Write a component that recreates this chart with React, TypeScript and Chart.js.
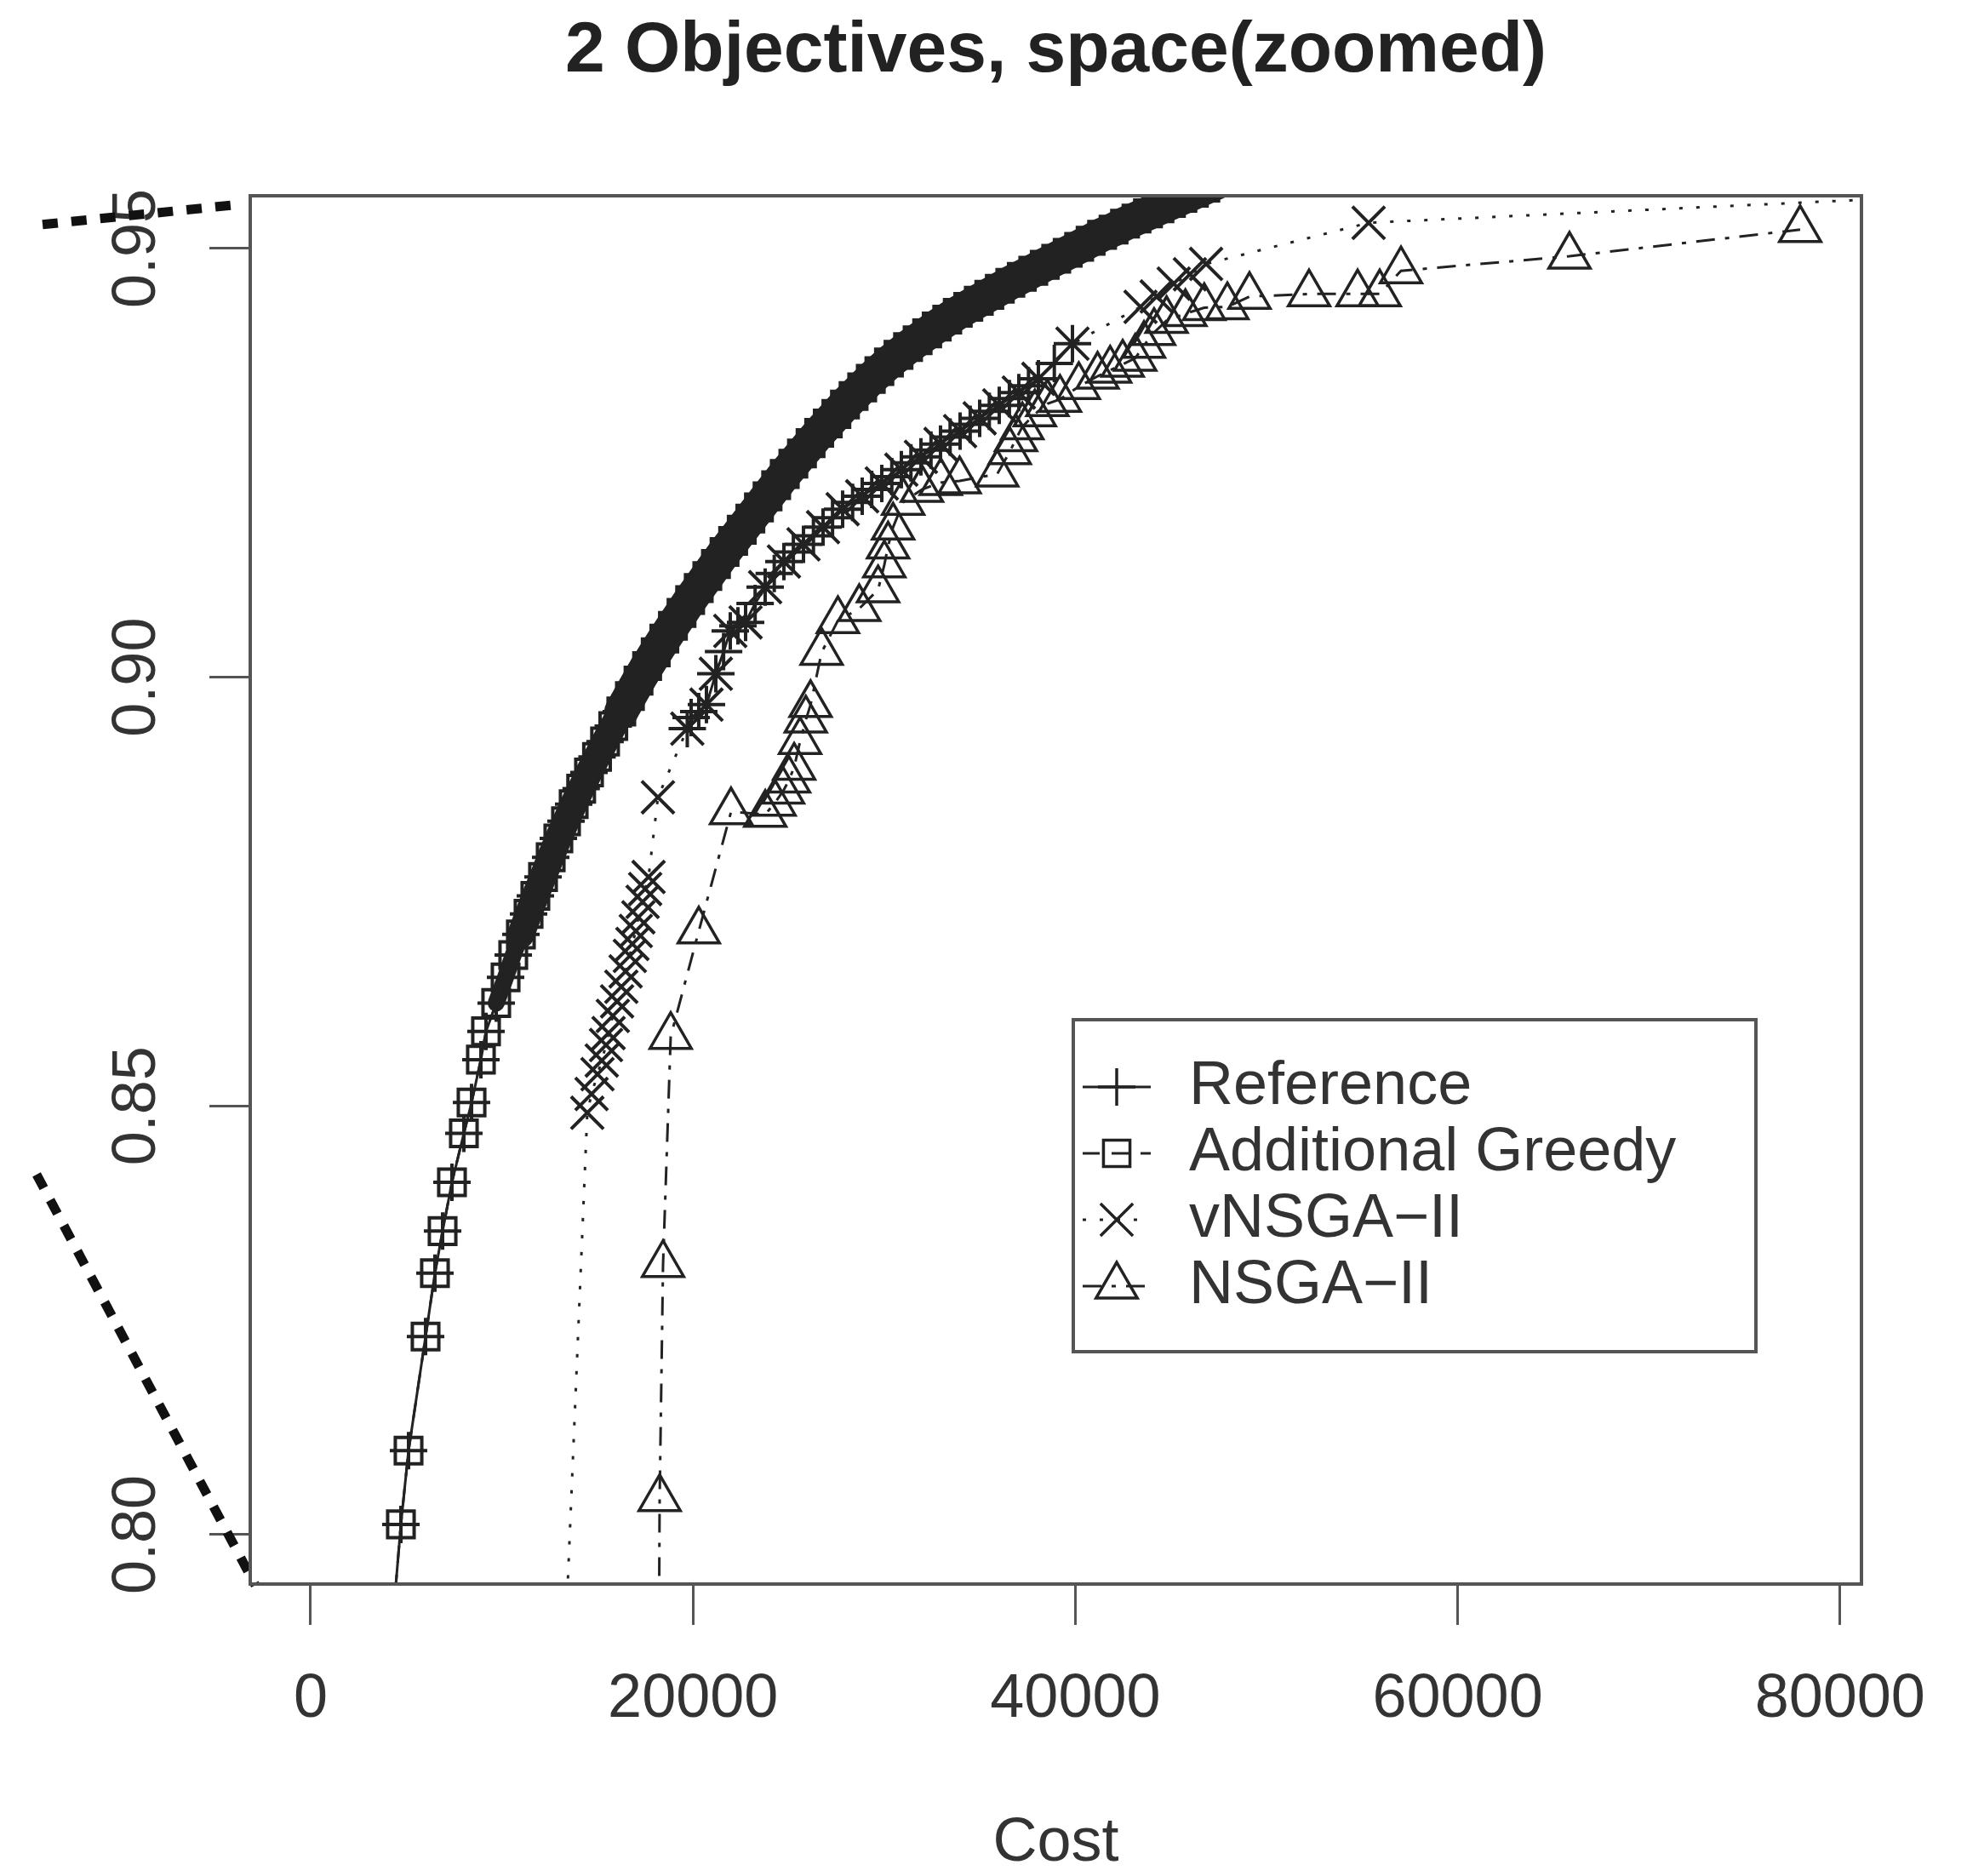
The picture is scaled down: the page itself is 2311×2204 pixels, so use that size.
import React, { useEffect, useRef } from 'react';
import { Chart, registerables } from 'chart.js';

Chart.register(...registerables);

// ---------------- data ----------------
const chartTitle = '2 Objectives, space(zoomed)';
const xAxisTitle = 'Cost';
const xTickValues = [0, 20000, 40000, 60000, 80000];
const yTickValues = [0.8, 0.85, 0.9, 0.95];
const seriesNames = ['Reference', 'Additional Greedy', 'vNSGA\u2212II', 'NSGA\u2212II'];

// front shared by Reference and Additional Greedy (dense band)
const bandCost = [
  4300, 4720, 5120, 6011, 6500, 6901, 7391, 8014, 8416, 8905, 9172, 9706, 10196, 10597, 10997, 11398,
  11754, 12155, 12556, 12957, 13357, 13758, 14150, 14560, 14980, 15400, 15830, 16250, 16700, 17150,
  17600, 18050, 18500, 18950, 19400, 19850, 20300, 20750, 21200, 21650, 22100, 22550, 23000, 23450,
  23900, 24350, 24800, 25250, 25700, 26150, 26600, 27050, 27500, 27950, 28400, 28850, 29300, 29750,
  30250, 30750, 31250, 31750, 32250, 32750, 33300, 33850, 34400, 34950, 35500, 36050, 36600, 37200,
  37800, 38400, 39000, 39600, 40200, 40800, 41400, 42000, 42600, 43200, 43800, 44400, 45000, 45600,
  46200, 46800, 47400,
];
const bandCoverage = [
  0.79, 0.8012, 0.8098, 0.8231, 0.8305, 0.8354, 0.8411, 0.8468, 0.8504, 0.8554, 0.8587, 0.862, 0.865,
  0.8676, 0.87, 0.8724, 0.8745, 0.8767, 0.879, 0.8812, 0.8832, 0.8852, 0.887, 0.8889, 0.8907, 0.8925,
  0.8943, 0.896, 0.8978, 0.8996, 0.9013, 0.9029, 0.9045, 0.906, 0.9075, 0.909, 0.9104, 0.9118, 0.9132,
  0.9146, 0.9159, 0.9172, 0.9185, 0.9198, 0.9211, 0.9224, 0.9237, 0.9249, 0.9261, 0.9273, 0.9285,
  0.9296, 0.9307, 0.9318, 0.9328, 0.9338, 0.9348, 0.9357, 0.9367, 0.9376, 0.9385, 0.9393, 0.9401,
  0.9409, 0.9417, 0.9425, 0.9432, 0.9439, 0.9446, 0.9453, 0.946, 0.9467, 0.9474, 0.9481, 0.9488,
  0.9495, 0.9502, 0.9509, 0.9516, 0.9522, 0.9529, 0.9535, 0.9541, 0.9547, 0.9553, 0.9559, 0.9565,
  0.9571, 0.9577,
];

// Reference points on the middle curve
const refUpperCost = [
  19700, 19902, 20300, 20703, 21194, 21600, 21950, 22350, 22751, 23250, 23775, 24250, 24755, 25250,
  25780, 26300, 26803, 27300, 27827, 28350, 28851, 29350, 29875, 30400, 30899, 31400, 31923, 32450,
  32947, 33450, 33972, 34500, 34996, 35500, 36020, 36550, 37043, 37550, 38067, 38900, 39850,
];
const refUpperCoverage = [
  0.894, 0.8953, 0.896, 0.8968, 0.9004, 0.903, 0.9054, 0.906, 0.9064, 0.9086, 0.9105, 0.9121, 0.9135,
  0.9146, 0.9155, 0.9165, 0.9175, 0.9186, 0.9196, 0.9204, 0.9211, 0.9219, 0.9226, 0.9234, 0.9242,
  0.925, 0.9257, 0.9265, 0.9272, 0.928, 0.9287, 0.9295, 0.9302, 0.931, 0.9317, 0.9325, 0.9332, 0.934,
  0.9348, 0.9366, 0.9389,
];

const vnsgaCost = [
  13200, 14470, 14693, 15004, 15227, 15450, 15583, 15806, 16029, 16251, 16474, 16696, 16830, 17008,
  17141, 17364, 17498, 17676, 18166, 19702, 20703, 21194, 21950, 22751, 23775, 24755, 25780, 26803,
  27827, 28851, 29875, 30899, 31923, 32947, 33972, 34996, 36020, 37043, 38067, 39850, 43410, 44257,
  45147, 45993, 46839, 55342, 90000,
];
const vnsgaCoverage = [
  0.781, 0.8492, 0.8514, 0.8537, 0.8553, 0.8571, 0.8585, 0.8605, 0.8622, 0.8639, 0.8657, 0.8675,
  0.8689, 0.8704, 0.872, 0.8738, 0.8753, 0.8767, 0.886, 0.894, 0.8968, 0.9004, 0.9054, 0.9064, 0.9105,
  0.9135, 0.9155, 0.9175, 0.9196, 0.9211, 0.9226, 0.9242, 0.9257, 0.9272, 0.9287, 0.9302, 0.9317,
  0.9332, 0.9348, 0.9389, 0.9432, 0.9444, 0.9459, 0.947, 0.9482, 0.953, 0.9566,
];

const nsgaCost = [
  18200, 18255, 18433, 18833, 20303, 21990, 23780, 24265, 24710, 25022, 25290, 25600, 25900, 26150,
  26727, 27580, 28696, 29680, 30008, 30205, 30468, 30993, 31977, 32961, 33946, 35914, 36570, 36898,
  37226, 37883, 38539, 39195, 40179, 41164, 41820, 42476, 43132, 43592, 44117, 44773, 45757, 46742,
  47952, 49110, 52226, 54766, 55922, 57034, 65850, 77916,
];
const nsgaCoverage = [
  0.78, 0.8042, 0.8315, 0.8581, 0.8704, 0.8843, 0.884, 0.8853, 0.8867, 0.888, 0.8895, 0.8925, 0.895,
  0.8968, 0.9029, 0.9066, 0.908, 0.9102, 0.9131, 0.9153, 0.9175, 0.9204, 0.9219, 0.9227, 0.9229,
  0.9237, 0.9263, 0.9278, 0.9292, 0.9307, 0.9319, 0.9324, 0.9339, 0.9351, 0.9358, 0.9365, 0.9372,
  0.9387, 0.9402, 0.9416, 0.9424, 0.9431, 0.9432, 0.9444, 0.9447, 0.9447, 0.9447, 0.9474, 0.9491,
  0.9522,
];

// stray dashed strokes printed outside the plot region (left margin)
const strayCost = [-14025, -3918, null, -14336, -2894];
const strayCoverage = [0.9528, 0.9551, null, 0.842, 0.7941];

// ---------------- styling / layout ----------------
const FONT = "'Liberation Sans', Arial, Helvetica, sans-serif";
const INK = '#222222';
const TEXT = '#333333';
const FRAME = '#555555';
const W = 2311;
const H = 2204;
const X_MIN = -3161;
const X_MAX = 81122;
const Y_MIN = 0.79424;
const Y_MAX = 0.95615;

const toPoints = (xs: (number | null)[], ys: (number | null)[]) => xs.map((x, i) => ({ x, y: ys[i] }));

function drawMarker(ctx: CanvasRenderingContext2D, style: string, x: number, y: number, r: number) {
  ctx.beginPath();
  if (style === 'cross') {
    ctx.moveTo(x - r, y); ctx.lineTo(x + r, y);
    ctx.moveTo(x, y - r); ctx.lineTo(x, y + r);
  } else if (style === 'crossRot') {
    const d = Math.SQRT1_2 * r;
    ctx.moveTo(x - d, y - d); ctx.lineTo(x + d, y + d);
    ctx.moveTo(x - d, y + d); ctx.lineTo(x + d, y - d);
  } else if (style === 'rect') {
    const s = Math.SQRT1_2 * r;
    ctx.rect(x - s, y - s, 2 * s, 2 * s);
  } else if (style === 'triangle') {
    let a = 0;
    ctx.moveTo(x + Math.sin(a) * r, y - Math.cos(a) * r);
    a += (2 * Math.PI) / 3;
    ctx.lineTo(x + Math.sin(a) * r, y - Math.cos(a) * r);
    a += (2 * Math.PI) / 3;
    ctx.lineTo(x + Math.sin(a) * r, y - Math.cos(a) * r);
    ctx.closePath();
  }
  ctx.stroke();
}

const legendItems = [
  { label: seriesNames[0], style: 'cross', r: 22, dash: [] as number[] },
  { label: seriesNames[1], style: 'rect', r: 22, dash: [20, 14] },
  { label: seriesNames[2], style: 'crossRot', r: 27, dash: [4, 16] },
  { label: seriesNames[3], style: 'triangle', r: 28, dash: [22, 12, 5, 12] },
];

const frameBoxPlugin = {
  id: 'frameBox',
  afterDatasetsDraw(chart: any) {
    const { ctx, chartArea: a } = chart;
    ctx.save();
    ctx.lineWidth = 4;
    ctx.strokeStyle = FRAME;
    ctx.strokeRect(a.left, a.top, a.right - a.left, a.bottom - a.top);
    ctx.restore();
  },
};

const rLegendPlugin = {
  id: 'rLegend',
  afterDraw(chart: any) {
    const { ctx, chartArea: a } = chart;
    const left = a.left + 967;
    const top = a.top + 968;
    const width = 802;
    const height = 390;
    ctx.save();
    ctx.lineWidth = 4;
    ctx.strokeStyle = FRAME;
    ctx.strokeRect(left, top, width, height);
    legendItems.forEach((it, i) => {
      const y = top + 79 + i * 78;
      const cx = left + 51;
      ctx.strokeStyle = INK;
      ctx.lineWidth = 3;
      ctx.setLineDash(it.dash);
      ctx.beginPath();
      ctx.moveTo(cx - 40, y);
      ctx.lineTo(cx + 40, y);
      ctx.stroke();
      ctx.setLineDash([]);
      ctx.lineWidth = 3.5;
      drawMarker(ctx, it.style, cx, y, it.r);
      ctx.fillStyle = TEXT;
      ctx.font = `72px ${FONT}`;
      ctx.textAlign = 'left';
      ctx.textBaseline = 'middle';
      ctx.fillText(it.label, left + 136, y);
    });
    ctx.restore();
  },
};

export default function App() {
  const canvasRef = useRef<HTMLCanvasElement | null>(null);

  useEffect(() => {
    if (!canvasRef.current) return;
    const common = {
      showLine: true,
      borderColor: INK,
      pointBorderColor: INK,
      pointBackgroundColor: 'rgba(0,0,0,0)',
      pointBorderWidth: 4,
      borderWidth: 3,
      spanGaps: false,
    };
    const bandLen = bandCost.length;
    const chart = new Chart(canvasRef.current, {
      type: 'scatter',
      data: {
        datasets: [
          {
            ...common,
            label: seriesNames[0],
            data: [...toPoints(bandCost, bandCoverage), { x: null, y: null }, ...toPoints(refUpperCost, refUpperCoverage)],
            pointStyle: 'cross',
            pointRadius: 22,
            borderCapStyle: 'round',
            borderJoinStyle: 'round',
            segment: {
              borderWidth: (c: any) => {
                if (c.p0DataIndex >= bandLen - 1) return 3;
                const y = c.p0.parsed.y;
                if (y >= 0.895) return 40;
                if (y >= 0.87) return 32;
                if (y >= 0.862) return 20;
                return 3;
              },
            },
          },
          {
            ...common,
            label: seriesNames[1],
            data: toPoints(bandCost, bandCoverage),
            pointStyle: 'rect',
            pointRadius: 22,
            borderDash: [20, 14],
          },
          {
            ...common,
            label: seriesNames[2],
            data: toPoints(vnsgaCost, vnsgaCoverage),
            pointStyle: 'crossRot',
            pointRadius: 27,
            borderDash: [4, 16],
          },
          {
            ...common,
            label: seriesNames[3],
            data: toPoints(nsgaCost, nsgaCoverage),
            pointStyle: 'triangle',
            pointRadius: 28,
            pointBorderWidth: 3.5,
            borderDash: [22, 12, 5, 12],
          },
          {
            label: 'stray',
            data: toPoints(strayCost, strayCoverage),
            showLine: true,
            borderColor: '#111111',
            borderWidth: 11,
            borderDash: [18, 16],
            pointRadius: 0,
            clip: false,
            spanGaps: false,
          },
        ] as any,
      },
      options: {
        responsive: false,
        maintainAspectRatio: false,
        devicePixelRatio: 1,
        animation: false,
        events: [],
        layout: { padding: { left: 0, top: 0, right: W - 2187, bottom: 0 } },
        plugins: {
          legend: { display: false },
          tooltip: { enabled: false },
          title: {
            display: true,
            fullSize: false,
            text: chartTitle,
            color: '#222222',
            font: { family: FONT, size: 84, weight: 'bold', lineHeight: 1.2 },
            padding: { top: 10, bottom: 119.2 },
          },
        },
        scales: {
          x: {
            type: 'linear',
            min: X_MIN,
            max: X_MAX,
            afterBuildTicks: (s: any) => {
              s.ticks = xTickValues.map((v) => ({ value: v }));
            },
            afterFit: (s: any) => {
              s.height = H - 1861;
            },
            ticks: {
              autoSkip: false,
              maxRotation: 0,
              minRotation: 0,
              padding: 45,
              color: TEXT,
              font: { family: FONT, size: 72 },
              callback: (v: any) => String(v),
            },
            grid: { display: true, drawOnChartArea: false, drawTicks: true, tickLength: 48, tickWidth: 3, tickColor: FRAME },
            border: { display: false },
            title: {
              display: true,
              text: xAxisTitle,
              color: TEXT,
              font: { family: FONT, size: 72, lineHeight: 1 },
              padding: { top: 0, bottom: 2 },
            },
          },
          y: {
            type: 'linear',
            min: Y_MIN,
            max: Y_MAX,
            afterBuildTicks: (s: any) => {
              s.ticks = yTickValues.map((v) => ({ value: v }));
            },
            afterFit: (s: any) => {
              s.width = 294;
            },
            ticks: {
              autoSkip: false,
              minRotation: 90,
              maxRotation: 90,
              crossAlign: 'center',
              padding: 14,
              color: TEXT,
              font: { family: FONT, size: 72 },
              callback: (v: any) => Number(v).toFixed(2),
            },
            grid: { display: true, drawOnChartArea: false, drawTicks: true, tickLength: 48, tickWidth: 3, tickColor: FRAME },
            border: { display: false },
          },
        },
      } as any,
      plugins: [frameBoxPlugin, rLegendPlugin],
    });
    return () => chart.destroy();
  }, []);

  return (
    <div style={{ position: 'absolute', left: 0, top: 0, width: W, height: H, background: '#ffffff' }}>
      <canvas ref={canvasRef} width={W} height={H} style={{ display: 'block', width: W, height: H }} />
    </div>
  );
}
